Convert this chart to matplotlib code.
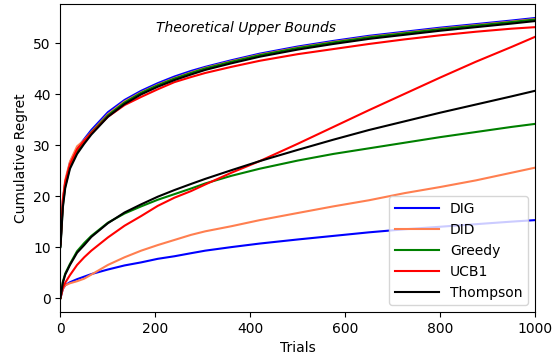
import matplotlib
matplotlib.use('Agg')
import matplotlib.pyplot as plt

# trial index at which the cumulative regret was sampled
trials = [0, 5, 10, 20, 35, 50, 65, 100, 135, 170, 205, 240, 275, 305,
          360, 420, 500, 575, 650, 725, 800, 875, 950, 1000]

# observed cumulative regret
dig = [0.0, 1.8, 2.5, 3.1, 3.7, 4.2, 4.7, 5.6, 6.4, 7.0, 7.7, 8.2, 8.8, 9.3,
       10.0, 10.7, 11.5, 12.2, 12.9, 13.5, 14.0, 14.5, 15.0, 15.3]
did = [0.0, 1.8, 2.5, 2.9, 3.3, 3.8, 4.6, 6.5, 8.0, 9.3, 10.4, 11.4, 12.4, 13.1,
       14.1, 15.3, 16.7, 18.0, 19.2, 20.6, 21.8, 23.1, 24.6, 25.6]
greedy = [0.0, 3.2, 4.8, 6.7, 9.2, 10.8, 12.2, 14.8, 16.6, 18.0, 19.3, 20.4, 21.5, 22.5,
          24.0, 25.4, 27.0, 28.3, 29.4, 30.5, 31.6, 32.6, 33.6, 34.2]
ucb1 = [0.0, 2.0, 3.0, 4.5, 6.5, 8.0, 9.3, 11.9, 14.2, 16.1, 18.1, 19.7, 21.0, 22.3,
        24.6, 26.9, 30.3, 33.6, 36.9, 40.1, 43.3, 46.4, 49.3, 51.3]
thompson = [0.0, 3.0, 4.6, 6.5, 8.9, 10.4, 12.0, 14.7, 16.8, 18.4, 19.9, 21.2, 22.4, 23.4,
            25.1, 26.9, 29.1, 31.1, 33.0, 34.7, 36.4, 38.0, 39.6, 40.7]

# theoretical upper bounds
dig_ub = [10.5, 19.0, 22.7, 26.6, 29.4, 31.2, 33.0, 36.5, 38.9, 40.7, 42.2, 43.5, 44.6, 45.4,
          46.7, 48.0, 49.4, 50.5, 51.5, 52.3, 53.1, 53.8, 54.5, 55.0]
did_ub = [10.8, 19.5, 23.2, 26.8, 29.8, 31.0, 32.6, 36.1, 38.6, 40.4, 41.9, 43.2, 44.3, 45.2,
          46.5, 47.8, 49.2, 50.3, 51.3, 52.1, 52.9, 53.6, 54.3, 54.8]
greedy_ub = [10.2, 18.2, 22.0, 25.8, 28.8, 30.7, 32.5, 35.9, 38.4, 40.3, 41.8, 43.1, 44.2, 45.1,
             46.4, 47.7, 49.1, 50.2, 51.2, 52.0, 52.8, 53.5, 54.2, 54.7]
ucb1_ub = [10.6, 19.2, 22.8, 26.3, 29.2, 30.9, 32.4, 35.6, 37.9, 39.5, 41.0, 42.4, 43.4, 44.2,
           45.4, 46.6, 47.9, 48.9, 49.9, 50.8, 51.6, 52.3, 52.9, 53.2]
thompson_ub = [10.0, 17.8, 21.6, 25.4, 28.3, 30.3, 32.1, 35.6, 38.1, 40.0, 41.5, 42.8, 43.9, 44.8,
               46.1, 47.4, 48.8, 49.9, 50.9, 51.7, 52.5, 53.2, 53.9, 54.4]

labels = ['DIG', 'DID', 'Greedy', 'UCB1', 'Thompson']
colors = ['b', 'coral', 'g', 'r', 'k']
regret = [dig, did, greedy, ucb1, thompson]
bounds = [dig_ub, did_ub, greedy_ub, ucb1_ub, thompson_ub]

fig = plt.figure(figsize=(5.59, 3.6), dpi=100)
ax = fig.add_axes([0.1082, 0.1333, 0.849, 0.8556])

for lbl, c, r, ub in zip(labels, colors, regret, bounds):
    ax.plot(trials, r, color=c, label=lbl)
    ax.plot(trials, ub, color=c)

ax.text(390, 53, 'Theoretical Upper Bounds', style='italic',
        ha='center', va='center', fontsize=10)

ax.set_xlim(0, 1000)
ax.set_xlabel('Trials')
ax.set_ylabel('Cumulative Regret')
ax.legend(loc='lower right', handlelength=3.2)

fig.savefig('out.png', dpi=100)
